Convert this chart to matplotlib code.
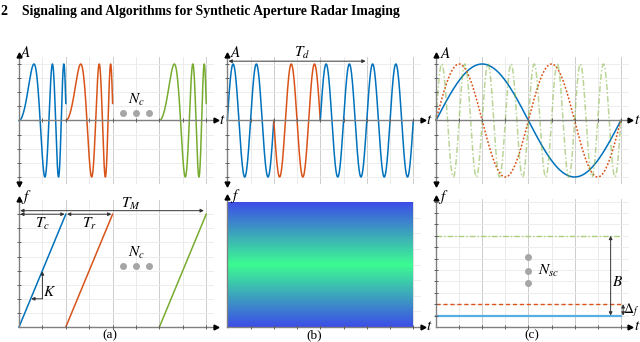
"""
Radar waveform overview: FMCW chirps, phase-coded CW and OFDM subcarriers.
Writes out.png (640x342).
"""

import matplotlib.pyplot as plt
import numpy as np
from matplotlib.colors import LinearSegmentedColormap

plt.rcParams["mathtext.fontset"] = "stix"
plt.rcParams["font.family"] = ["Liberation Serif", "DejaVu Serif"]

W, H = 640, 342

BLUE = "#0072BD"
ORANGE = "#D95319"
GREEN = "#77AC30"
AXIS_GRAY = "#808080"

# (a) FMCW: chirp start times, chirp length and top frequency (in grid units)
CHIRP_STARTS = [0, 2, 6]
CHIRP_COLORS = [BLUE, ORANGE, GREEN]
CHIRP_LEN = 2
CHIRP_FMAX = 8
CHIRP_PHASE = 15.4  # phase reached at the end of a chirp, rad

# (b) phase coded CW: one chip = 2 carrier cycles
CHIP_CODES = [1, -1, 1, 1]
CHIP_COLORS = [BLUE, ORANGE, BLUE, BLUE]
CHIP_LEN = 2

# (c) OFDM subcarriers: cycles over the symbol and frequency index
SUB_CYCLES = [1, 2, 8]
SUB_FREQS = [1, 2, 8]
SUB_COLORS = [BLUE, ORANGE, GREEN]
SUB_STYLES = ["-", (0, (1.2, 1.2)), (0, (4, 1.5, 1, 1.5))]
SUB_ALPHAS = [1.0, 1.0, 0.5]
SUB_LINE_COLORS = ["#5aaee6", ORANGE, "#a9cf7a"]
SUB_LINE_STYLES = ["-", (0, (3, 2)), (0, (4, 1.5, 1, 1.5))]

GRADIENT_STOPS = ["#3c4de8", "#3dfb92", "#3c4de8"]


def place_axes(fig, x0, ux, y0, uy, xlim, ylim):
    """Axes whose data origin sits at pixel (x0, y0) with ux/uy pixels per unit."""
    left = x0 + xlim[0] * ux
    right = x0 + xlim[1] * ux
    top = y0 - ylim[1] * uy
    bottom = y0 - ylim[0] * uy
    ax = fig.add_axes([left / W, 1 - bottom / H, (right - left) / W, (bottom - top) / H])
    ax.set_xlim(xlim)
    ax.set_ylim(ylim)
    ax.patch.set_alpha(0)
    for side in ax.spines:
        ax.spines[side].set_visible(False)
    ax.set_xticks([])
    ax.set_yticks([])
    return ax


def draw_grid(ax, xmax, ymin, ymax, yticks):
    for x in range(1, 9):
        color = "#cdcdcd" if x % 2 == 0 else "#ebebeb"
        ax.plot([x, x], [ymin, ymax], color=color, lw=0.7, zorder=0)
    for y in yticks:
        ax.plot([0, xmax], [y, y], color="#ededed", lw=0.7, zorder=0)


def draw_axes_lines(ax, ylo, yhi, xhi, yticks, both_y=False):
    ax.plot([0, xhi], [0, 0], color=AXIS_GRAY, lw=1.0, zorder=3)
    ax.plot([0, 0], [ylo, yhi], color=AXIS_GRAY, lw=1.0, zorder=3)
    ax.plot(xhi, 0, marker=">", color="k", ms=3.5, clip_on=False, zorder=4)
    ax.plot(0, yhi, marker="^", color="k", ms=3.5, clip_on=False, zorder=4)
    if both_y:
        ax.plot(0, ylo, marker="v", color="k", ms=3.5, clip_on=False, zorder=4)
    ax.plot(range(1, 9), [0] * 8, linestyle="none", marker="|", color="#606060",
            ms=3, mew=0.7, zorder=3)
    ax.plot([0] * len(yticks), yticks, linestyle="none", marker="_", color="#606060",
            ms=3, mew=0.7, zorder=3)


def dim_arrow(ax, p0, p1, style="<|-|>"):
    ax.annotate("", xy=p1, xytext=p0,
                arrowprops=dict(arrowstyle=style, color="#333333", lw=0.7,
                                mutation_scale=5, shrinkA=0, shrinkB=0))


def label(ax, x, y, text, size=11, ha="center"):
    ax.text(x, y, text, fontsize=size, ha=ha, va="center")


fig = plt.figure(figsize=(W / 100, H / 100), dpi=100)

fig.text(1 / W, 1 - 11 / H, "2    Signaling and Algorithms for Synthetic Aperture Radar Imaging",
         fontsize=9.9, fontweight="bold", va="center", ha="left")

amp_ticks = [-1, -0.75, -0.5, -0.25, 0.25, 0.5, 0.75, 1]
top_x0 = [19, 227.3, 436]
top_ux = [23.4, 23.25, 23.1]
top_axes = []
for x0, ux in zip(top_x0, top_ux):
    ax = place_axes(fig, x0, ux, 120.5, 56.5, (-0.6, 9.0), (-1.3, 1.35))
    draw_grid(ax, 8.3, -1.1, 1.12, amp_ticks)
    draw_axes_lines(ax, -1.12, 1.16, 8.4, amp_ticks, both_y=True)
    label(ax, 8.7, 0, "$t$")
    top_axes.append(ax)

# (a) top: chirps
ax = top_axes[0]
u = np.linspace(0, 1, 400)
for start, color in zip(CHIRP_STARTS, CHIRP_COLORS):
    ax.plot(start + u * CHIRP_LEN, np.sin(CHIRP_PHASE * u ** 2), color=color, lw=1.1, zorder=2)
label(ax, 0.3, 1.2, "$A$")
label(ax, 5.0, 0.37, "$N_c$")
ax.plot([4.45, 5.0, 5.55], [0.13] * 3, "o", color="#a6a6a6", ms=4, zorder=2)

# (b) top: phase coded carrier
ax = top_axes[1]
for i, (code, color) in enumerate(zip(CHIP_CODES, CHIP_COLORS)):
    x = i * CHIP_LEN + np.linspace(0, CHIP_LEN, 300)
    ax.plot(x, code * np.sin(2 * np.pi * x), color=color, lw=1.1, zorder=2)
dim_arrow(ax, (0.05, 1.05), (5.95, 1.05))
label(ax, 0.35, 1.2, "$A$")
label(ax, 3.2, 1.19, "$T_d$")

# (c) top: subcarriers
ax = top_axes[2]
x = np.linspace(0, 8, 800)
for cyc, color, ls, alpha in zip(SUB_CYCLES, SUB_COLORS, SUB_STYLES, SUB_ALPHAS):
    ax.plot(x, np.sin(2 * np.pi * cyc * x / 8), color=color, ls=ls, lw=1.1,
            alpha=alpha, zorder=2)
label(ax, 0.4, 1.18, "$A$")

# (a) bottom: frequency ramps
ax = place_axes(fig, 19, 23.4, 327, 14.1, (-0.6, 9.0), (-0.6, 9.7))
f_ticks = list(range(1, 9))
draw_grid(ax, 8.3, 0, 9.0, f_ticks)
draw_axes_lines(ax, 0, 9.1, 8.4, f_ticks)
for start, color in zip(CHIRP_STARTS, CHIRP_COLORS):
    ax.plot([start, start + CHIRP_LEN], [0, CHIRP_FMAX], color=color, lw=1.1, zorder=2)
dim_arrow(ax, (0.05, 8.25), (7.9, 8.25))
dim_arrow(ax, (0.05, 8.0), (1.95, 8.0))
dim_arrow(ax, (2.05, 8.0), (3.95, 8.0))
dim_arrow(ax, (1.0, 2.0), (1.0, 3.95), style="-|>")
dim_arrow(ax, (1.0, 2.0), (0.52, 2.0), style="-|>")
label(ax, 0.3, 9.2, "$f$")
label(ax, 4.8, 8.7, "$T_M$")
label(ax, 1.0, 7.3, "$T_c$")
label(ax, 3.0, 7.3, "$T_r$")
label(ax, 1.3, 2.5, "$K$")
label(ax, 5.0, 5.25, "$N_c$")
ax.plot([4.45, 5.0, 5.55], [4.3] * 3, "o", color="#a6a6a6", ms=4, zorder=2)

# (b) bottom: occupied band
ax = place_axes(fig, 227.3, 23.25, 327, 125, (-0.6, 9.0), (-0.08, 1.1))
cmap = LinearSegmentedColormap.from_list("band", GRADIENT_STOPS)
ax.imshow(np.linspace(0, 1, 256)[:, None], cmap=cmap, aspect="auto",
          extent=(0, 8, 0, 1), origin="lower", zorder=1)
for y in [0.125, 0.25, 0.375, 0.5, 0.625, 0.75, 0.875]:
    ax.plot([8.0, 8.3], [y, y], color="#ededed", lw=0.7, zorder=0)
ax.plot([8, 8], [0, 1.0], color="#dddddd", lw=0.7, zorder=0)
draw_axes_lines(ax, 0, 1.04, 8.4, [])
label(ax, 0.35, 1.05, "$f$")
label(ax, 8.7, 0, "$t$")

# (c) bottom: subcarrier frequencies
ax = place_axes(fig, 436, 23.1, 327, 11.4, (-0.6, 9.0), (-0.8, 12.0))
sc_ticks = list(range(1, 12))
draw_grid(ax, 8.3, 0, 11.2, sc_ticks)
draw_axes_lines(ax, 0, 11.3, 8.4, sc_ticks)
for fq, color, ls in zip(SUB_FREQS, SUB_LINE_COLORS, SUB_LINE_STYLES):
    lw = 1.6 if ls == "-" else 1.0
    ax.plot([0, 8], [fq, fq], color=color, ls=ls, lw=lw, zorder=2)
dim_arrow(ax, (7.56, 1.0), (7.56, 8.0))
dim_arrow(ax, (8.1, 1.0), (8.1, 2.0))
label(ax, 0.3, 11.4, "$f$")
label(ax, 8.7, 0, "$t$")
label(ax, 7.85, 3.95, "$B$")
label(ax, 8.45, 1.5, r"$\Delta_f$", size=10)
label(ax, 4.4, 4.9, "$N_{sc}$", ha="left")
ax.plot([4.0, 4.0, 4.0], [6.1, 4.95, 3.85], "o", color="#a6a6a6", ms=4, zorder=2)

for x_px, text in zip([110, 314, 532], ["(a)", "(b)", "(c)"]):
    fig.text(x_px / W, 1 - 335 / H, text, fontsize=9.5, ha="center", va="center")

fig.savefig("out.png", dpi=100)
